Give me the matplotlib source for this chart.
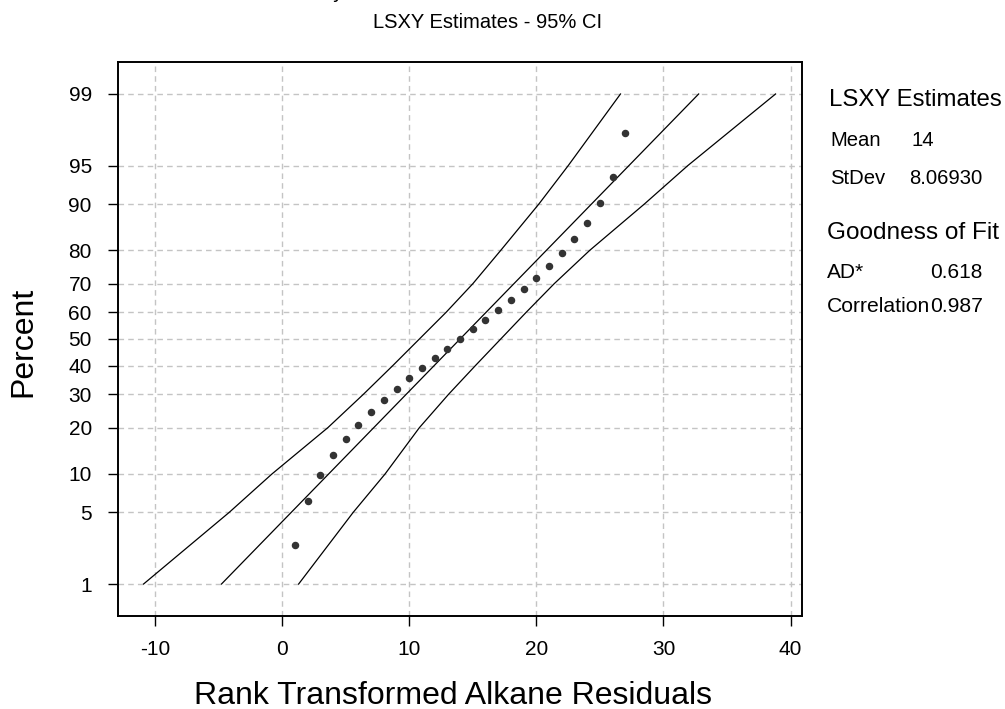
import numpy as np
import matplotlib
matplotlib.use("Agg")
import matplotlib.pyplot as plt
from statistics import NormalDist

plt.rcParams['font.family'] = ['Liberation Sans', 'DejaVu Sans']

# ---------------- data ----------------
rank_x = [1, 2, 3, 4, 5, 6, 7, 8, 9, 10, 11, 12, 13, 14, 15, 16, 17, 18, 19, 20,
          21, 22, 23, 24, 25, 26, 27]
percent_y = [2.55, 6.20, 9.85, 13.50, 17.15, 20.80, 24.45, 28.10, 31.75, 35.40,
             39.05, 42.70, 46.35, 50.00, 53.65, 57.30, 60.95, 64.60, 68.25, 71.90,
             75.55, 79.20, 82.85, 86.50, 90.15, 93.80, 97.45]

fit_pct = [1, 99]
fit_x = [-4.77, 32.77]

band_pct = [1, 5, 10, 20, 30, 40, 50, 60, 70, 80, 90, 95, 99]
band_lower_x = [-10.9, -4.15, -0.8, 3.6, 6.4, 8.7, 10.8, 12.9, 15.0, 17.2, 20.2, 22.5, 26.62]
band_upper_x = [1.3, 5.6, 8.1, 10.8, 13.1, 15.2, 17.2, 19.2, 21.4, 24.2, 28.5, 31.9, 38.82]

yticks = [1, 5, 10, 20, 30, 40, 50, 60, 70, 80, 90, 95, 99]
xticks = [-10, 0, 10, 20, 30, 40]

stats_labels = ["Mean", "StDev"]
stats_values = ["14", "8.06930"]
gof_labels = ["AD*", "Correlation"]
gof_values = ["0.618", "0.987"]

# ---------------- probability scale ----------------
_nd = NormalDist()
_ppf = np.vectorize(lambda p: _nd.inv_cdf(min(max(p / 100.0, 1e-12), 1 - 1e-12)),
                    otypes=[float])
_cdf = np.vectorize(lambda z: _nd.cdf(z) * 100.0, otypes=[float])


def fwd(p):
    return _ppf(np.asarray(p, dtype=float))


def inv(z):
    return _cdf(np.asarray(z, dtype=float))


W, H = 1005, 709
fig = plt.figure(figsize=(W / 100, H / 100), dpi=100)
L, R, T, B = 117.5, 802.0, 62.0, 616.0
ax = fig.add_axes([L / W, 1 - B / H, (R - L) / W, (B - T) / H])
ax.set_yscale('function', functions=(fwd, inv))

zlim = 2.63
ax.set_ylim(_nd.cdf(-zlim) * 100, _nd.cdf(zlim) * 100)
ax.set_xlim(-12.95, 40.9)

ax.set_yticks(yticks)
ax.set_yticklabels([str(t) for t in yticks])
ax.set_xticks(xticks)
ax.set_xticklabels([str(t) for t in xticks])
ax.minorticks_off()

ax.grid(True, color='#c4c4c4', linestyle=(0, (4, 3)), linewidth=1.0)
ax.set_axisbelow(True)

ax.tick_params(axis='both', direction='out', length=7.5, width=1.0, color='black',
               labelsize=15)
ax.tick_params(axis='y', pad=11)
ax.tick_params(axis='x', pad=9.5)
for s in ax.spines.values():
    s.set_linewidth(1.4)
    s.set_color('black')

ax.plot(band_lower_x, band_pct, color='black', lw=0.9)
ax.plot(band_upper_x, band_pct, color='black', lw=0.9)
ax.plot(fit_x, fit_pct, color='black', lw=0.9)
ax.plot(rank_x, percent_y, linestyle='none', marker='o', ms=4.4,
        color='#333333', mec='#333333')

# axis labels
fig.text(23 / W, 1 - 342 / H, "Percent", rotation=90, ha='center', va='center',
         fontsize=23)
fig.text(453 / W, 1 - 704 / H, "Rank Transformed Alkane Residuals", ha='center',
         va='baseline', fontsize=23)

# clipped title & subtitle
fig.text(249 / W, 1 + 2 / H, "Probability Plot for Rank Transformed Alkane Residuals",
         ha='left', va='baseline', fontsize=14.5)
fig.text(488 / W, 1 - 23 / H, "LSXY Estimates - 95% CI", ha='center', va='center',
         fontsize=14.5)

# stats panel
fig.text(829 / W, 1 - 100 / H, "LSXY Estimates", ha='left', va='center', fontsize=17.3)
fig.text(830 / W, 1 - 141 / H, stats_labels[0], ha='left', va='center', fontsize=14.6)
fig.text(911 / W, 1 - 141 / H, stats_values[0], ha='left', va='center', fontsize=14.6)
fig.text(830 / W, 1 - 178 / H, stats_labels[1], ha='left', va='center', fontsize=14.6)
fig.text(982 / W, 1 - 178 / H, stats_values[1], ha='right', va='center', fontsize=14.6)
fig.text(827 / W, 1 - 233 / H, "Goodness of Fit", ha='left', va='center', fontsize=17.6)
fig.text(827 / W, 1 - 272 / H, gof_labels[0], ha='left', va='center', fontsize=15)
fig.text(982 / W, 1 - 272 / H, gof_values[0], ha='right', va='center', fontsize=15)
fig.text(827 / W, 1 - 306 / H, gof_labels[1], ha='left', va='center', fontsize=15.2)
fig.text(983 / W, 1 - 306 / H, gof_values[1], ha='right', va='center', fontsize=15.2)

fig.savefig("out.png", dpi=100)
